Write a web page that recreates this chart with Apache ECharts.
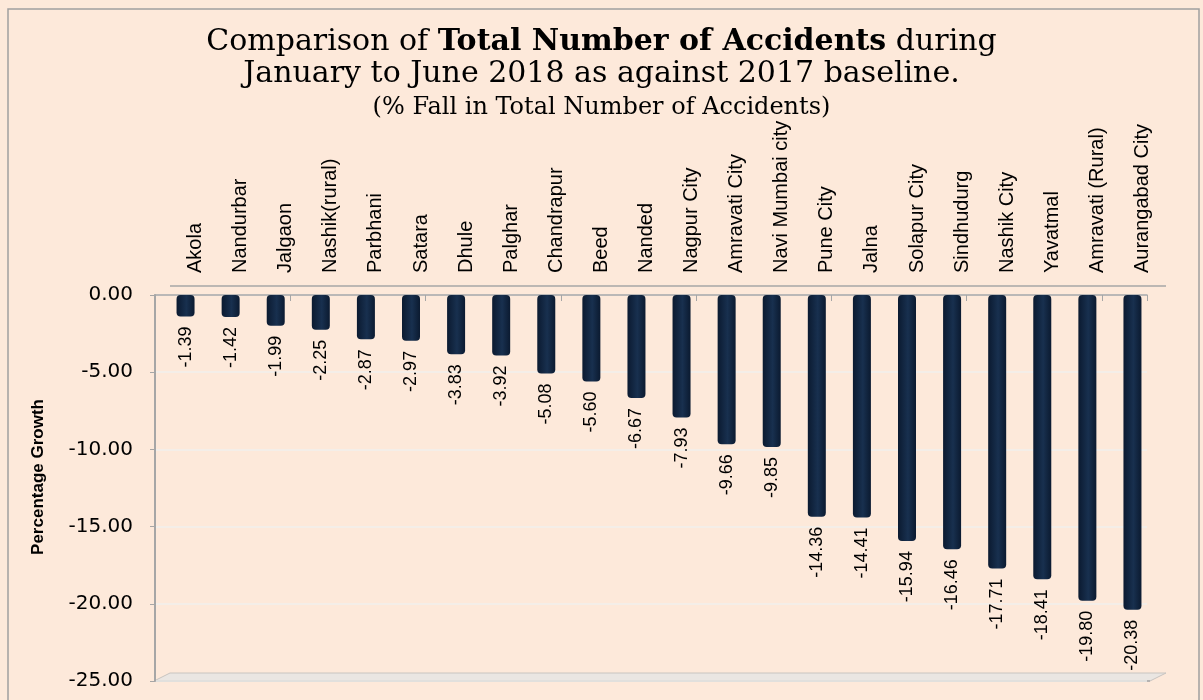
<!DOCTYPE html>
<html>
<head>
<meta charset="utf-8">
<script src="https://cdn.jsdelivr.net/npm/echarts@6/dist/echarts.min.js"></script>
<style>
  html, body { margin: 0; padding: 0; background: #fff; }
  #chart { width: 1203px; height: 700px; }
</style>
</head>
<body>
<div id="chart"></div>
<script>
const districts = ['Akola', 'Nandurbar', 'Jalgaon', 'Nashik(rural)', 'Parbhani', 'Satara', 'Dhule', 'Palghar',
  'Chandrapur', 'Beed', 'Nanded', 'Nagpur City', 'Amravati City', 'Navi Mumbai city', 'Pune City', 'Jalna',
  'Solapur City', 'Sindhudurg', 'Nashik City', 'Yavatmal', 'Amravati (Rural)', 'Aurangabad City'];
const growth = [-1.39, -1.42, -1.99, -2.25, -2.87, -2.97, -3.83, -3.92, -5.08, -5.60, -6.67, -7.93,
  -9.66, -9.85, -14.36, -14.41, -15.94, -16.46, -17.71, -18.41, -19.80, -20.38];

const sans = '"Liberation Sans", Arial, sans-serif';
const chartDom = echarts.init(document.getElementById('chart'));

const option = {
  backgroundColor: '#FDE9DA',
  animation: false,
  title: {
    left: 'center',
    top: 21,
    text: '{n|Comparison of }{b|Total Number of Accidents}{n| during}\n{n|January to June 2018 as against 2017 baseline.}\n{s|(% Fall in Total Number of Accidents)}',
    textStyle: {
      fontWeight: 'normal',
      rich: {
        n: { fontFamily: '"DejaVu Serif", serif', fontSize: 30, fontWeight: 'normal', color: '#000', lineHeight: 32 },
        b: { fontFamily: '"DejaVu Serif", serif', fontSize: 30, fontWeight: 'bold', color: '#000', lineHeight: 32 },
        s: { fontFamily: '"DejaVu Serif", serif', fontSize: 24, fontWeight: 'normal', color: '#000', lineHeight: 36 }
      }
    }
  },
  grid: [
    { left: 155, right: 56, top: 295, bottom: 19 },
    { left: 163, right: 48, top: 295, bottom: 19 }
  ],
  xAxis: [
    {
      gridIndex: 0,
      type: 'category',
      position: 'top',
      data: districts,
      axisLine: { lineStyle: { color: '#A6A6A6', width: 1.5 } },
      axisTick: { show: true, inside: true, length: 6, lineStyle: { color: '#A6A6A6' } },
      axisLabel: { show: false }
    },
    {
      gridIndex: 1,
      type: 'category',
      position: 'top',
      data: districts,
      axisLine: { show: false },
      axisTick: { show: false },
      axisLabel: {
        rotate: 90,
        margin: 22,
        verticalAlign: 'top',
        fontFamily: sans,
        fontSize: 20,
        color: '#000'
      }
    }
  ],
  yAxis: [
    {
      gridIndex: 0,
      type: 'value',
      min: -25,
      max: 0,
      interval: 5,
      name: 'Percentage Growth',
      nameLocation: 'middle',
      nameGap: 108,
      nameTextStyle: { fontFamily: sans, fontSize: 17, fontWeight: 'bold', color: '#000', padding: [0, 0, 0, 22] },
      axisLine: { show: true, lineStyle: { color: '#A6A6A6', width: 2 } },
      axisTick: { show: true, length: 5, lineStyle: { color: '#A6A6A6' } },
      axisLabel: {
        margin: 22,
        fontFamily: '"DejaVu Sans", sans-serif',
        fontSize: 20,
        color: '#000',
        formatter: v => v.toFixed(2)
      },
      splitLine: { show: true, lineStyle: { color: '#F1EFED', width: 1.5 } }
    },
    {
      gridIndex: 1,
      type: 'value',
      min: -25,
      max: 0,
      interval: 5,
      show: false
    }
  ],
  graphic: [
    {
      type: 'rect',
      shape: { x: 8, y: 9, width: 1191, height: 700 },
      style: { fill: null, stroke: '#A0A0A0', lineWidth: 1.5 },
      silent: true
    },
    {
      type: 'line',
      shape: { x1: 170, y1: 286, x2: 1166, y2: 286 },
      style: { stroke: '#A6A6A6', lineWidth: 1.5 },
      silent: true
    },
    {
      type: 'polygon',
      shape: { points: [[154, 681], [170, 673], [1166, 673], [1150, 681]] },
      style: { fill: '#EAE6E2', stroke: '#C8C4C0', lineWidth: 1 },
      silent: true
    },
    {
      type: 'line',
      shape: { x1: 154, y1: 681, x2: 1150, y2: 681 },
      style: { stroke: '#A6A6A6', lineWidth: 1.5 },
      silent: true
    }
  ],
  series: [
    {
      type: 'bar',
      xAxisIndex: 1,
      yAxisIndex: 1,
      data: growth,
      barWidth: 18,
      itemStyle: {
        borderRadius: 4,
        color: new echarts.graphic.LinearGradient(0, 0, 1, 0, [
          { offset: 0, color: '#0B1A30' },
          { offset: 0.55, color: '#18304F' },
          { offset: 1, color: '#0B1A30' }
        ])
      },
      label: {
        show: true,
        position: 'bottom',
        distance: 10,
        rotate: 90,
        align: 'right',
        verticalAlign: 'middle',
        fontFamily: sans,
        fontSize: 18,
        color: '#000',
        formatter: p => p.value.toFixed(2)
      }
    }
  ]
};

chartDom.setOption(option);
</script>
</body>
</html>
